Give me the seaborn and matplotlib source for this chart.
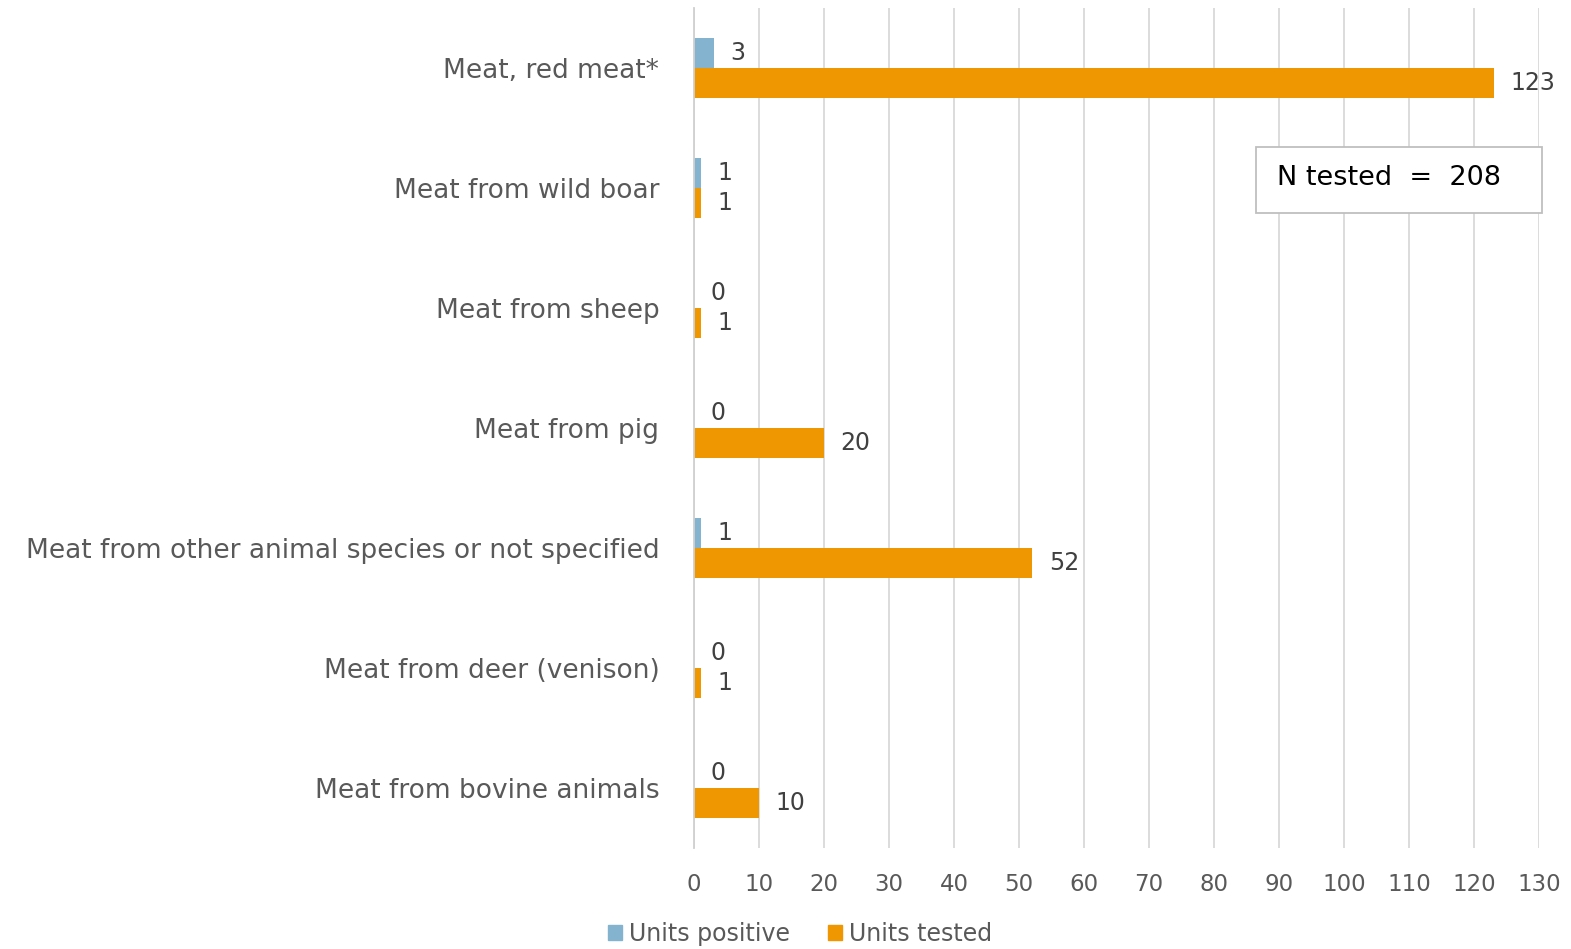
import matplotlib
matplotlib.use("Agg")
import matplotlib.pyplot as plt
import seaborn as sns
import pandas as pd
from matplotlib.patches import Rectangle

categories = [
    "Meat, red meat*",
    "Meat from wild boar",
    "Meat from sheep",
    "Meat from pig",
    "Meat from other animal species or not specified",
    "Meat from deer (venison)",
    "Meat from bovine animals",
]
units_positive = [3, 1, 0, 0, 1, 0, 0]
units_tested = [123, 1, 1, 20, 52, 1, 10]
series_names = ["Units positive", "Units tested"]
series_colors = ["#83B3CF", "#EF9700"]
n_tested_label = "N tested  =  208"

df = pd.DataFrame({
    "category": categories * 2,
    "value": units_positive + units_tested,
    "series": [series_names[0]] * len(categories) + [series_names[1]] * len(categories),
})

sns.set_style("white")
plt.rcParams["font.family"] = ["DejaVu Sans"]

fig = plt.figure(figsize=(15.71, 9.49), dpi=100)
ax = fig.add_axes([694 / 1571, 1 - 848 / 949, (1539 - 694) / 1571, (848 - 8) / 949])

sns.barplot(data=df, y="category", x="value", hue="series", order=categories,
            hue_order=series_names, palette=series_colors, width=0.5,
            orient="h", ax=ax, legend=False, saturation=1, edgecolor="none")

ax.set_xlim(0, 130)
ax.set_ylim(6.5, -0.5)
ax.set_xticks(range(0, 131, 10))
ax.set_xlabel("")
ax.set_ylabel("")
ax.grid(axis="x", color="#D9D9D9", linewidth=1.3)
ax.grid(axis="y", visible=False)
ax.set_axisbelow(True)
for side in ["top", "right", "bottom"]:
    ax.spines[side].set_visible(False)
ax.spines["left"].set_color("#D0D0D0")
ax.spines["left"].set_linewidth(1.3)
ax.tick_params(axis="x", length=0, pad=18, labelsize=16.5, labelcolor="#595959")
ax.tick_params(axis="y", length=0, pad=25, labelsize=19, labelcolor="#595959")

for container in ax.containers:
    ax.bar_label(container, padding=12, fontsize=17, color="#404040")

# summary box
fig.patches.append(Rectangle((1256 / 1571, 1 - 213 / 949), (1542 - 1256) / 1571, 66 / 949,
                             transform=fig.transFigure, facecolor="white",
                             edgecolor="#BFBFBF", linewidth=1.3, zorder=5))
fig.text(1277 / 1571, 1 - 178 / 949, n_tested_label, fontsize=19.5, color="black",
         va="center", ha="left", zorder=6)

handles = [Rectangle((0, 0), 1, 1, color=c) for c in series_colors]
fig.legend(handles, series_names, loc="center", bbox_to_anchor=(800 / 1571, 1 - 934 / 949),
           ncol=2, frameon=False, fontsize=17, labelcolor="#595959",
           handlelength=0.6, handleheight=0.6, handletextpad=0.3, columnspacing=1.6)

fig.savefig("out.png", dpi=100)
